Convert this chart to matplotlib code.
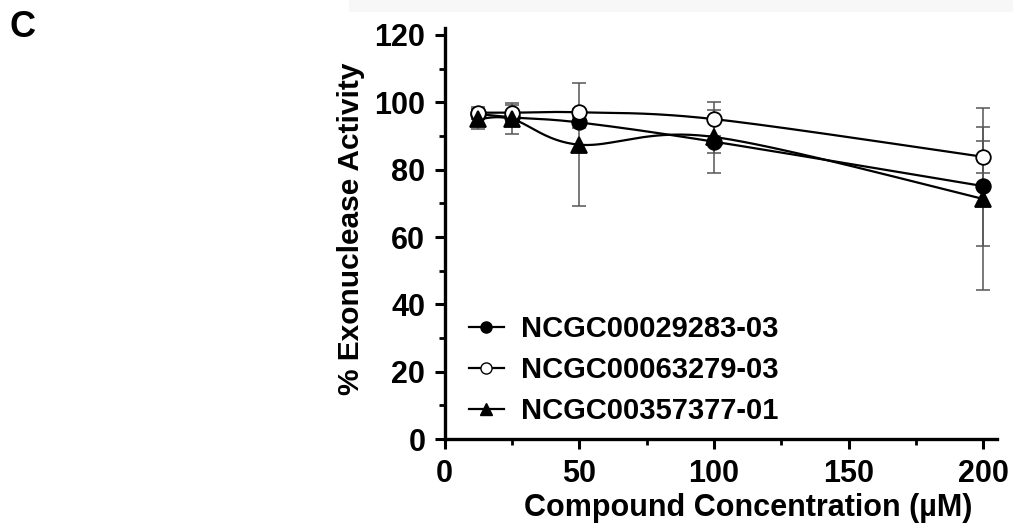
import numpy as np
import matplotlib
matplotlib.use('Agg')
import matplotlib.pyplot as plt
from matplotlib.lines import Line2D
from matplotlib.patches import Rectangle

plt.rcParams['font.family'] = ['Liberation Sans', 'DejaVu Sans']
plt.rcParams['font.weight'] = 'bold'

conc = [12.5, 25, 50, 100, 200]
names = ['NCGC00029283-03', 'NCGC00063279-03', 'NCGC00357377-01']
act_283 = [96.5, 95.5, 94.0, 88.3, 75.1]
err_283 = [1.5, 1.5, 1.7, 9.3, 17.7]
act_279 = [96.9, 96.9, 97.0, 95.0, 83.8]
err_279 = [1.8, 3.0, 1.0, 5.0, 4.8]
act_377 = [95.0, 95.0, 87.4, 89.7, 71.3]
err_377 = [3.0, 4.3, 18.2, 4.7, 26.9]

xticks = [0, 50, 100, 150, 200]
yticks = [0, 20, 40, 60, 80, 100, 120]


def smooth(ax, x, y, n=40):
    # Excel-like smoothed line: Catmull-Rom as cubic Bezier, done in display space
    P = ax.transData.transform(np.column_stack([x, y]))
    P = np.vstack([P[0], P, P[-1]])
    out = []
    t = np.linspace(0, 1, n)[:, None]
    for i in range(1, len(P) - 2):
        p0, p3 = P[i], P[i + 1]
        b1 = p0 + (P[i + 1] - P[i - 1]) / 6.
        b2 = p3 - (P[i + 2] - P[i]) / 6.
        seg = (1 - t)**3 * p0 + 3 * (1 - t)**2 * t * b1 + 3 * (1 - t) * t**2 * b2 + t**3 * p3
        out.append(seg)
    out = np.vstack(out)
    d = ax.transData.inverted().transform(out)
    return d[:, 0], d[:, 1]


fig = plt.figure(figsize=(10.13, 5.31), dpi=100)
fig.patches.append(Rectangle((0.345, 0.978), 0.655, 0.022, transform=fig.transFigure,
                             color='#f7f7f7', lw=0, zorder=0))
ax = fig.add_axes([0.439, 0.173, 0.545, 0.774])
ax.set_xlim(0, 205)
ax.set_ylim(0, 122)

series = [(act_283, err_283, dict(marker='o', mfc='black')),
          (act_279, err_279, dict(marker='o', mfc='white')),
          (act_377, err_377, dict(marker='^', mfc='black'))]
handles = []
for (y, e, st), nm in zip(series, names):
    ax.errorbar(conc, y, yerr=e, fmt='none', ecolor='#555555', elinewidth=1.1,
                capsize=5, capthick=1.1, zorder=2)
    sx, sy = smooth(ax, conc, y)
    ax.plot(sx, sy, color='black', lw=1.6, zorder=3)
    ms = 11 if st['marker'] == '^' else 10.5
    ax.plot(conc, y, ls='none', marker=st['marker'], mfc=st['mfc'], mec='black',
            mew=1.3, ms=ms, zorder=4)
    handles.append(Line2D([], [], color='black', lw=1.6, marker=st['marker'],
                          mfc=st['mfc'], mec='black', mew=1.0, ms=8, label=nm))

for s in ['top', 'right']:
    ax.spines[s].set_visible(False)
for s in ['left', 'bottom']:
    ax.spines[s].set_linewidth(2.4)
ax.spines['left'].set_bounds(0, 122)

ax.set_xticks(xticks)
ax.set_yticks(yticks)
ax.set_xticks([25, 75, 125, 175], minor=True)
ax.set_yticks([10, 30, 50, 70, 90, 110], minor=True)
ax.tick_params(which='major', direction='out', length=7, width=2.2, labelsize=22, pad=7)
ax.tick_params(which='minor', direction='out', length=4.5, width=2.0)

ax.set_xlabel('Compound Concentration (µM)', fontsize=22, fontweight='bold')
ax.set_ylabel('% Exonuclease Activity', fontsize=21.5, fontweight='bold')
ax.xaxis.set_label_coords(0.549, -0.132)
ax.yaxis.set_label_coords(-0.145, 0.513)

ax.legend(handles=handles, loc='lower left', bbox_to_anchor=(-0.004, -0.03), frameon=False,
          handlelength=1.2, handletextpad=0.6, labelspacing=0.45,
          prop={'weight': 'bold', 'size': 21})

fig.text(0.022, 0.948, 'C', fontsize=26, fontweight='bold', ha='center', va='center')

fig.savefig('out.png', dpi=100)
